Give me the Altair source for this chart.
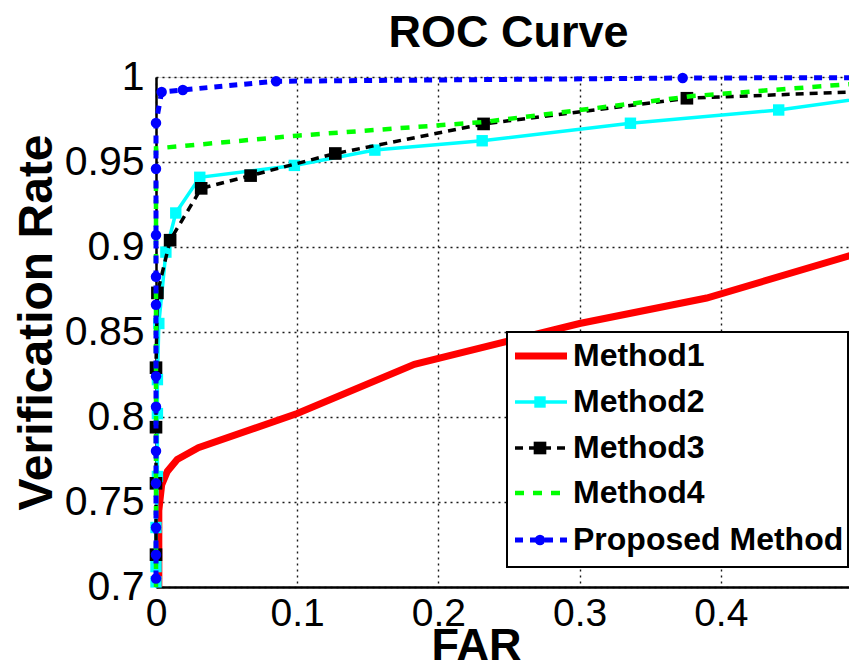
import altair as alt
import pandas as pd

# ---------------- data ----------------
far1 = [0.002, 0.002, 0.004, 0.008, 0.015, 0.030, 0.100, 0.183, 0.300, 0.390, 0.500]
vr1 = [0.700, 0.745, 0.760, 0.768, 0.775, 0.782, 0.802, 0.831, 0.855, 0.870, 0.897]

far2 = [0.000, 0.000, 0.000, 0.001, 0.001, 0.001, 0.002, 0.007, 0.014, 0.031, 0.098, 0.155, 0.231, 0.336, 0.441, 0.550]
vr2 = [0.703, 0.712, 0.735, 0.765, 0.802, 0.822, 0.855, 0.897, 0.920, 0.941, 0.948, 0.957, 0.9625, 0.9728, 0.9806, 0.993]

far3 = [0.000, 0.000, 0.000, 0.000, 0.001, 0.010, 0.032, 0.067, 0.127, 0.232, 0.376, 0.550]
vr3 = [0.719, 0.761, 0.794, 0.829, 0.873, 0.904, 0.9345, 0.942, 0.955, 0.9724, 0.9875, 0.993]

far4 = [0.000, 0.000, 0.100, 0.232, 0.380, 0.550]
vr4 = [0.700, 0.958, 0.9655, 0.9735, 0.9888, 0.9995]

far5 = [0.000, 0.000, 0.000, 0.000, 0.000, 0.000, 0.000, 0.000, 0.000, 0.000, 0.000, 0.000, 0.004, 0.019, 0.085, 0.373, 0.600]
vr5 = [0.705, 0.719, 0.735, 0.761, 0.780, 0.806, 0.824, 0.866, 0.8825, 0.907, 0.946, 0.973, 0.9912, 0.9924, 0.9975, 0.9994, 0.9998]

names = ["Method1", "Method2", "Method3", "Method4", "Proposed Method"]
x_ticks = [0, 0.1, 0.2, 0.3, 0.4]
y_ticks = [0.7, 0.75, 0.8, 0.85, 0.9, 0.95, 1.0]

FONT = "Liberation Sans"
W, H = 693, 510
XMAX = 0.4908

xs = alt.Scale(domain=[0, XMAX], nice=False, zero=False)
ys = alt.Scale(domain=[0.7, 1.0], nice=False, zero=False)

common = dict(grid=True, ticks=False, format="~g",
              labelFont=FONT, labelColor="black",
              labelOverlap=False, labelFlush=False,
              domainColor="black", domainWidth=2.5,
              gridColor="black", gridDash=[2, 4], gridWidth=1.4, gridOpacity=0.9,
              titleFont=FONT, titleFontWeight="bold", titleColor="black",
              titleBaseline="middle")
xaxis = alt.Axis(values=x_ticks, title="FAR", labelPadding=7, labelFontSize=39,
                 titleFontSize=45, titleX=320, titleY=58, **common)
yaxis = alt.Axis(values=y_ticks, title="Verification Rate", labelPadding=12, labelFontSize=41,
                 titleFontSize=48, titleX=-119, titleY=245, titleAngle=270, **common)


def df(fx, fy):
    return pd.DataFrame({"far": fx, "vr": fy})


def enc(ch, first=False):
    if first:
        return ch.encode(x=alt.X("far:Q", scale=xs, axis=xaxis),
                         y=alt.Y("vr:Q", scale=ys, axis=yaxis))
    return ch.encode(x=alt.X("far:Q", scale=xs), y=alt.Y("vr:Q", scale=ys))


def pts(d):
    # only markers that fall inside the visible FAR range
    return alt.Chart(d).transform_filter(alt.datum.far <= XMAX)


d1, d2, d3, d4, d5 = df(far1, vr1), df(far2, vr2), df(far3, vr3), df(far4, vr4), df(far5, vr5)

l1 = enc(alt.Chart(d1).mark_line(color="#ff0000", strokeWidth=7), True)
l2 = enc(alt.Chart(d2).mark_line(color="#00ffff", strokeWidth=3.5))
p2 = enc(pts(d2).mark_point(shape="square", filled=True, color="#00ffff", size=130, opacity=1))
l3 = enc(alt.Chart(d3).mark_line(color="#000000", strokeWidth=3.5, strokeDash=[8, 6]))
p3 = enc(pts(d3).mark_point(shape="square", filled=True, color="#000000", size=160, opacity=1))
l4 = enc(alt.Chart(d4).mark_line(color="#00ff00", strokeWidth=4.5, strokeDash=[9, 9]))
l5 = enc(alt.Chart(d5).mark_line(color="#0000ff", strokeWidth=5, strokeDash=[8, 7]))
p5 = enc(pts(d5).mark_point(shape="circle", filled=True, color="#0000ff", size=110, opacity=1))

# ---------------- legend (drawn inside the plot, bottom right) ----------------
leg = pd.DataFrame({"label": names})
box = alt.Chart(leg.head(1)).mark_rect(fill="white", stroke="black", strokeWidth=2).encode(
    x=alt.value(351), x2=alt.value(692), y=alt.value(255), y2=alt.value(490))

row_y = [279, 325, 371, 416, 463]
LX0, LX1, MX, TX = 359, 411, 384, 417
styles = [
    dict(color="#ff0000", strokeWidth=7),
    dict(color="#00ffff", strokeWidth=3.5),
    dict(color="#000000", strokeWidth=3.5, strokeDash=[8, 6]),
    dict(color="#00ff00", strokeWidth=4.5, strokeDash=[9, 9]),
    dict(color="#0000ff", strokeWidth=5, strokeDash=[8, 7]),
]
markers = {1: ("square", "#00ffff", 130), 2: ("square", "#000000", 160), 4: ("circle", "#0000ff", 110)}

legend_layers = [box]
for i, nm in enumerate(names):
    row = leg.iloc[[i]]
    legend_layers.append(alt.Chart(row).mark_rule(**styles[i]).encode(
        x=alt.value(LX0), x2=alt.value(LX1), y=alt.value(row_y[i])))
    if i in markers:
        shp, col, sz = markers[i]
        legend_layers.append(alt.Chart(row).mark_point(shape=shp, filled=True, color=col, size=sz, opacity=1).encode(
            x=alt.value(MX), y=alt.value(row_y[i])))
    legend_layers.append(alt.Chart(row).mark_text(font=FONT, fontSize=32, fontWeight="bold", color="black",
                                                  align="left", baseline="middle").encode(
        x=alt.value(TX), y=alt.value(row_y[i]), text="label:N"))

chart = alt.layer(l1, l2, p2, l3, p3, l4, l5, p5, *legend_layers).properties(
    width=W, height=H,
    title=alt.TitleParams("ROC Curve", font=FONT, fontSize=45, fontWeight="bold", color="black",
                          anchor="middle", offset=0, dx=6),
    autosize=alt.AutoSizeParams(type="none"),
    padding={"left": 148, "top": 69, "right": 0, "bottom": 75},
).configure_view(stroke=None).configure(background="white")

chart.save("out.html", embed_options={"renderer": "svg", "actions": False})
